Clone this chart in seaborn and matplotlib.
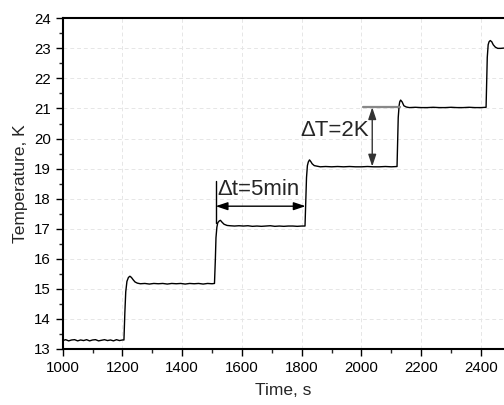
import matplotlib
matplotlib.use("Agg")
import matplotlib.pyplot as plt
import seaborn as sns
import pandas as pd

# ---- data ----
time_s = [
    1000, 1010, 1020, 1030, 1040, 1050, 1060, 1070, 1080, 1090, 1100,
    1110, 1120, 1130, 1140, 1150, 1160, 1170, 1180, 1190, 1200,
    1205, 1208, 1211, 1215, 1220, 1225, 1230, 1236, 1242, 1250, 1260,
    1275, 1290, 1305, 1320, 1335, 1350, 1365, 1380, 1395, 1410, 1425,
    1440, 1455, 1470, 1485, 1500, 1508,
    1511, 1513, 1516, 1519, 1524, 1528, 1533, 1540, 1550, 1560,
    1575, 1590, 1605, 1620, 1635, 1650, 1665, 1680, 1695, 1710, 1725,
    1740, 1755, 1770, 1785, 1800, 1811,
    1814, 1816, 1819, 1822, 1826, 1830, 1835, 1842, 1852, 1862,
    1880, 1900, 1920, 1940, 1960, 1980, 2000, 2020, 2040, 2060, 2080,
    2100, 2119,
    2121, 2123, 2126, 2128, 2131, 2136, 2142, 2150, 2160,
    2180, 2200, 2220, 2240, 2260, 2280, 2300, 2320, 2340, 2360, 2380,
    2400, 2417,
    2419, 2421, 2424, 2427, 2431, 2436, 2441, 2448, 2456, 2466, 2477,
]
temperature_K = [
    13.28, 13.31, 13.27, 13.30, 13.31, 13.27, 13.30, 13.28, 13.31, 13.27, 13.30,
    13.31, 13.27, 13.29, 13.31, 13.28, 13.30, 13.27, 13.31, 13.28, 13.30,
    13.30, 14.20, 14.90, 15.25, 15.38, 15.42, 15.38, 15.30, 15.23, 15.19, 15.17,
    15.18, 15.16, 15.18, 15.17, 15.18, 15.16, 15.18, 15.17, 15.18, 15.16, 15.18,
    15.17, 15.18, 15.16, 15.18, 15.17, 15.18,
    16.00, 16.70, 17.05, 17.20, 17.26, 17.28, 17.22, 17.15, 17.11, 17.10,
    17.09, 17.10, 17.09, 17.10, 17.08, 17.09, 17.08, 17.09, 17.10, 17.08, 17.09,
    17.08, 17.09, 17.09, 17.08, 17.09, 17.09,
    18.00, 18.70, 19.10, 19.22, 19.29, 19.24, 19.16, 19.10, 19.08, 19.06,
    19.07, 19.06, 19.07, 19.06, 19.07, 19.06, 19.06, 19.07, 19.06, 19.06, 19.07,
    19.06, 19.07,
    19.90, 20.70, 21.10, 21.22, 21.28, 21.22, 21.09, 21.05, 21.03,
    21.04, 21.03, 21.03, 21.04, 21.03, 21.03, 21.04, 21.03, 21.03, 21.04, 21.03,
    21.03, 21.04,
    21.90, 22.70, 23.12, 23.22, 23.26, 23.22, 23.12, 23.04, 23.00, 23.00, 23.01,
]
x_ticks = [1000, 1200, 1400, 1600, 1800, 2000, 2200, 2400]
y_ticks = [13, 14, 15, 16, 17, 18, 19, 20, 21, 22, 23, 24]
x_label = "Time, s"
y_label = "Temperature, K"
dt_label = "\u0394t=5min"
dT_label = "\u0394T=2K"

df = pd.DataFrame({"t": time_s, "T": temperature_K})

sns.set_style("ticks")
plt.rcParams["font.family"] = ["Liberation Sans", "DejaVu Sans"]

fig = plt.figure(figsize=(5.04, 4.05), dpi=100)
ax = fig.add_axes([0.1244, 0.1383, 0.8756, 0.8165])

ax.grid(True, which="major", color="#e6e6e6", linestyle=(0, (4, 3)), linewidth=0.7)
ax.set_axisbelow(True)

sns.lineplot(data=df, x="t", y="T", ax=ax, color="black", linewidth=1.0,
             estimator=None, sort=False)

# annotations
ax.plot([1512, 1512], [17.2, 18.6], color="black", lw=1.0)
ax.annotate("", xy=(1512, 17.75), xytext=(1813, 17.75),
            arrowprops=dict(arrowstyle="<|-|>,head_length=0.6,head_width=0.2",
                            color="black", lw=1.0,
                            mutation_scale=12, shrinkA=0, shrinkB=0))
ax.text(1517, 18.32, dt_label, fontsize=16, ha="left", va="center")

ax.plot([2005, 2128], [21.04, 21.04], color="#888888", lw=1.6)
ax.annotate("", xy=(2036, 21.04), xytext=(2036, 19.07),
            arrowprops=dict(arrowstyle="<|-|>,head_length=0.6,head_width=0.2",
                            color="#333333", lw=1.0,
                            mutation_scale=12, shrinkA=0, shrinkB=0))
ax.text(2026, 20.28, dT_label, fontsize=16, ha="right", va="center")

ax.set_xlim(1000, 2477)
ax.set_ylim(13, 24)
ax.set_xticks(x_ticks)
ax.set_yticks(y_ticks)
ax.set_xticks([1100, 1300, 1500, 1700, 1900, 2100, 2300], minor=True)
ax.set_yticks([13.5 + i for i in range(11)], minor=True)
ax.tick_params(which="major", direction="out", length=5, width=1.0,
               labelsize=10.8, colors="black")
ax.tick_params(which="minor", direction="out", length=3, width=1.0)

ax.set_xlabel(x_label, fontsize=12.5, labelpad=6)
ax.set_ylabel(y_label, fontsize=12.5, labelpad=4)

for s in ["left", "bottom", "top"]:
    ax.spines[s].set_visible(True)
    ax.spines[s].set_linewidth(1.5)
    ax.spines[s].set_color("black")
ax.spines["right"].set_visible(False)

fig.savefig("out.png", dpi=100)
